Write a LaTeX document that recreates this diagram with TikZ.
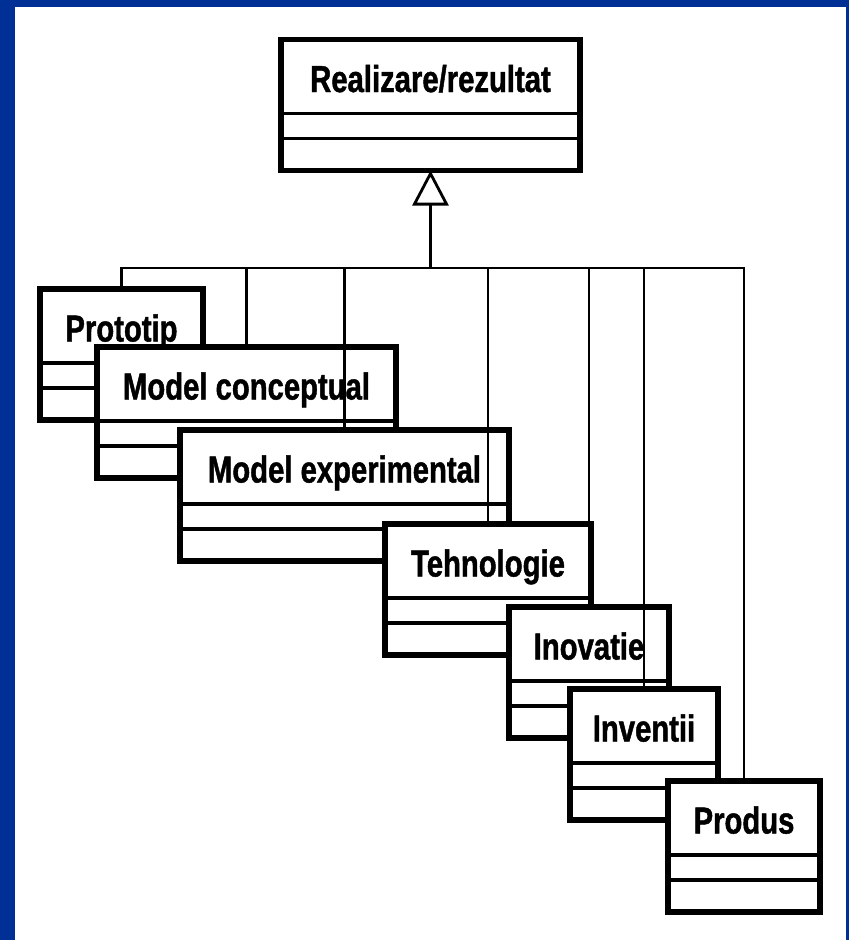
\documentclass[tikz,border=0pt]{standalone}
\usepackage{fontspec}
\newfontfamily\umlfont[FakeStretch=0.78, BoldFeatures={FakeBold=1.2}]{Liberation Sans}
\usetikzlibrary{arrows.meta}
\definecolor{frameblue}{RGB}{0,48,150}

% UML class box: name, x, y (top left), width, class name
\newcommand\umlclass[5]{%
  \node[classbox, minimum width=#4pt, anchor=north west] (#1) at (#2,#3) {};
  \draw[compline] ([yshift=-74pt]#1.north west) -- ([yshift=-74pt]#1.north east);
  \draw[compline] ([yshift=-99pt]#1.north west) -- ([yshift=-99pt]#1.north east);
  \node[classname, anchor=base] (#1-name) at ([yshift=-52.5pt]#1.north) {#5};
}

\begin{document}
\begin{tikzpicture}[x=1pt,y=-1pt,
  classbox/.style={draw=black, fill=white, line width=5.5pt, rectangle,
    inner sep=0pt, outer sep=0pt, minimum height=131pt},
  compline/.style={line width=3.2pt},
  classname/.style={font=\umlfont\bfseries\fontsize{37.5}{40}\selectfont, inner sep=0pt},
  conn/.style={line width=2.8pt},
  gen/.style={-{Triangle[open,length=35pt,width=36pt]}}
]
\useasboundingbox (0,0) rectangle (849,940);
\fill[frameblue] (0,0) rectangle (849,940);
\fill[white] (15,7) rectangle (846,940);

% classes, later ones overlapping earlier ones
\umlclass{root}{281}{39.5}{299}{Realizare/rezultat}
\umlclass{proto}{40}{289}{163}{Prototip}
\umlclass{conc}{97}{347}{299}{Model conceptual}
\umlclass{exper}{180}{430}{329}{Model experimental}
\umlclass{tehno}{385}{524}{206}{Tehnologie}
\umlclass{inov}{509}{607}{160}{Inovatie}
\umlclass{invent}{570}{689}{148}{Inventii}
\umlclass{prod}{668}{781}{152}{Produs}

% generalization tree
\path (0,268) coordinate (busy);
\coordinate (junction) at (root.south |- busy);
\draw[conn, gen] (junction) -- (root.south);
\foreach \c in {proto,conc,exper,tehno,inov,invent,prod}
  \draw[conn] (\c.north) |- (junction);
\end{tikzpicture}
\end{document}
